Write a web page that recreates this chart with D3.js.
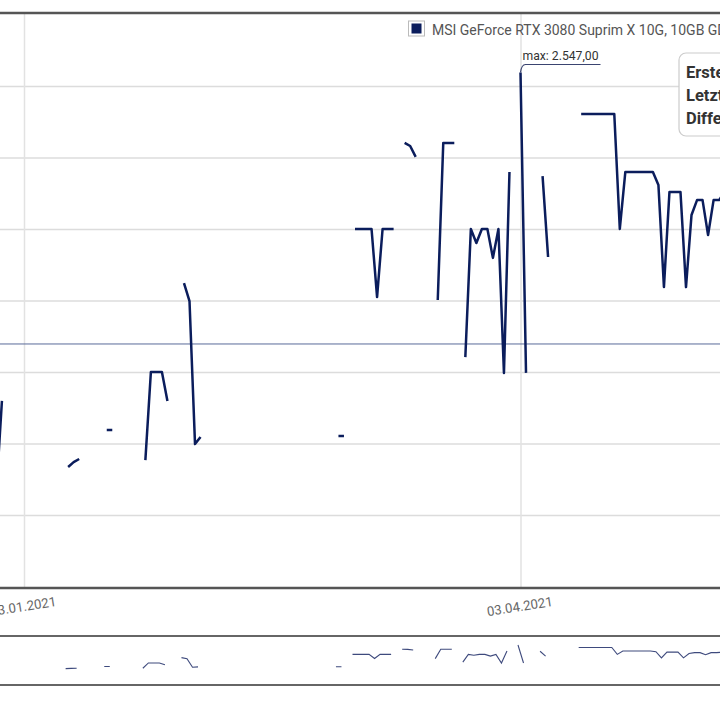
<!DOCTYPE html>
<html><head><meta charset="utf-8">
<script src="https://cdn.jsdelivr.net/npm/d3@7/dist/d3.min.js"></script>
<style>
html,body{margin:0;padding:0;background:#fff;}
svg{display:block;font-family:Roboto,"Noto Sans",sans-serif;}
</style></head>
<body>
<script>
// ---- data ----
const seriesName = "MSI GeForce RTX 3080 Suprim X 10G, 10GB GDDR6X, HDMI, 3x DP";
const dates = [
 "2020-12-29","2020-12-30","2021-01-05",
 "2021-01-11","2021-01-12","2021-01-13","2021-01-15",
 "2021-01-18","2021-01-19","2021-01-21",
 "2021-01-25","2021-01-26","2021-01-27","2021-01-28","2021-01-29","2021-01-30",
 "2021-02-01","2021-02-02","2021-02-03","2021-02-04","2021-02-10",
 "2021-03-01","2021-03-02","2021-03-03",
 "2021-03-04","2021-03-05","2021-03-06","2021-03-07","2021-03-08","2021-03-09","2021-03-10","2021-03-11","2021-03-12",
 "2021-03-13","2021-03-14","2021-03-15","2021-03-17",
 "2021-03-19","2021-03-20","2021-03-21","2021-03-22","2021-03-23",
 "2021-03-24","2021-03-25","2021-03-26","2021-03-27","2021-03-28","2021-03-29","2021-03-30","2021-03-31","2021-04-01","2021-04-02",
 "2021-04-03","2021-04-04","2021-04-05",
 "2021-04-07","2021-04-08","2021-04-10",
 "2021-04-14","2021-04-15","2021-04-16","2021-04-17","2021-04-18","2021-04-19","2021-04-20",
 "2021-04-21","2021-04-22","2021-04-23","2021-04-24","2021-04-25","2021-04-26","2021-04-27",
 "2021-04-28","2021-04-29","2021-04-30","2021-05-01","2021-05-02","2021-05-03","2021-05-04",
 "2021-05-05","2021-05-06","2021-05-07","2021-05-08","2021-05-09","2021-05-10"
];
const prices = [
 1087,1399,null,
 1168,1185,1196,null,
 1297,1297,null,
 1192,1500,1500,1500,1399,null,
 1811,1748,1248,1273,null,
 1276,1276,null,
 2000,2000,2000,2000,1762,2000,2000,2000,null,
 2301,2290,2252,null,
 1752,2301,2301,2301,null,
 1552,2000,1951,2000,2000,1899,2000,1497,2199,null,
 2547,1497,null,
 2185,1902,null,
 2402,2402,2402,2402,2402,2402,2402,
 2000,2199,2199,2199,2199,2199,2199,
 2154,1797,2129,2129,2129,1797,2049,
 2101,2101,1979,2101,2101,2129
];
const averagePrice = 1598;
const yTickValues = [1000,1250,1500,1750,2000,2250,2500];
const xTickLabels = ["2021-01-03","2021-04-03"];
const tooltipLabels = ["Erster Preis:","Letzter Preis:","Differenz:"];
const maxLabelPrefix = "max: ";

// ---- chart ----
const W = 720, H = 720;
const plotTop = 13, plotBottom = 588;
const navTop = 636, navBottom = 685;
const lineColor = "#0b1d5c";
const parse = d3.utcParse("%Y-%m-%d");
const data = dates.map((d,i)=>({date:parse(d), v:prices[i]}));

const svg = d3.select("body").append("svg").attr("width",W).attr("height",H);

const x = d3.scaleUtc().domain([parse("2021-01-03"), parse("2021-04-03")]).range([24, 520.5]);
const y = d3.scaleLinear().domain([745, 2755]).range([plotBottom, plotTop]);

// horizontal grid via axis
const gy = svg.append("g").call(d3.axisLeft(y).tickValues(yTickValues).tickSize(-W).tickFormat(""));
gy.select(".domain").remove();
gy.selectAll("line").attr("stroke","#dcdcdc").attr("stroke-width",1.5);

// vertical grid + labels via axis
const gx = svg.append("g").attr("transform",`translate(0,${plotBottom})`)
  .call(d3.axisBottom(x).tickValues(xTickLabels.map(parse)).tickSize(-(plotBottom-plotTop)).tickFormat(""));
gx.select(".domain").remove();
gx.selectAll("line").attr("stroke","#e2e2e2").attr("stroke-width",1.5);

const fmt = d3.utcFormat("%d.%m.%Y");
svg.append("g").selectAll("text").data(xTickLabels.map(parse)).join("text")
  .attr("transform",d=>`translate(${x(d)},611) rotate(-9)`)
  .attr("text-anchor","middle").attr("font-size",13.2).attr("fill","#666")
  .text(d=>fmt(d));

// average line
svg.append("line").attr("x1",0).attr("x2",W).attr("y1",y(averagePrice)).attr("y2",y(averagePrice))
  .attr("stroke","#5a6a9a").attr("stroke-width",1);

// price line
const line = d3.line().defined(d=>d.v!=null).x(d=>x(d.date)).y(d=>y(d.v));
svg.append("path").datum(data).attr("d",line).attr("fill","none")
  .attr("stroke",lineColor).attr("stroke-width",2.5).attr("stroke-linejoin","round");

// frame lines
[plotTop, plotBottom].forEach(yy=>svg.append("line").attr("x1",0).attr("x2",W).attr("y1",yy).attr("y2",yy)
  .attr("stroke","#555").attr("stroke-width",2.5));
[navTop, navBottom].forEach(yy=>svg.append("line").attr("x1",0).attr("x2",W).attr("y1",yy).attr("y2",yy)
  .attr("stroke","#666").attr("stroke-width",2));

// navigator
const nx = d3.scaleUtc().domain(x.domain()).range([21.5, 518]);
const ny = d3.scaleLinear().domain([215, 3072]).range([navBottom, navTop]);
const navLine = d3.line().defined(d=>d.v!=null).x(d=>nx(d.date)).y(d=>ny(d.v));
svg.append("path").datum(data).attr("d",navLine).attr("fill","none")
  .attr("stroke","#1c2a66").attr("stroke-width",1.1).attr("opacity",0.85);

// max annotation
const maxD = data.reduce((a,b)=> (b.v!=null && (a==null || b.v>a.v)) ? b : a, null);
const mx = x(maxD.date), my = y(maxD.v);
svg.append("path").attr("d",`M${mx},${my} Q${mx+1},${my-8} ${mx+5},${my-8} L${mx+80},${my-8}`)
  .attr("fill","none").attr("stroke","#3a4470").attr("stroke-width",1.2);
const maxFmt = v => d3.format(",.2f")(v).replace(/,/g,"#").replace(".",",").replace(/#/g,".");
svg.append("text").attr("x",mx+2).attr("y",my-13).attr("font-size",12.2).attr("fill","#333")
  .text(maxLabelPrefix + maxFmt(maxD.v));

// legend
svg.append("rect").attr("x",408.5).attr("y",21).attr("width",16).attr("height",15)
  .attr("fill","#fff").attr("stroke","#bbb");
svg.append("rect").attr("x",411.5).attr("y",23.5).attr("width",10).attr("height",10).attr("fill",lineColor);
svg.append("text").attr("x",432).attr("y",35).attr("font-size",14).attr("fill","#555").text(seriesName);

// tooltip box
svg.append("rect").attr("x",679).attr("y",53).attr("width",80).attr("height",83).attr("rx",7)
  .attr("fill","#fff").attr("stroke","#ccc").attr("stroke-width",1.2);
svg.append("g").selectAll("text").data(tooltipLabels).join("text")
  .attr("x",686).attr("y",(d,i)=>78+i*23).attr("font-size",16.5).attr("font-weight","bold").attr("fill","#333")
  .text(d=>d);
</script>
</body></html>
